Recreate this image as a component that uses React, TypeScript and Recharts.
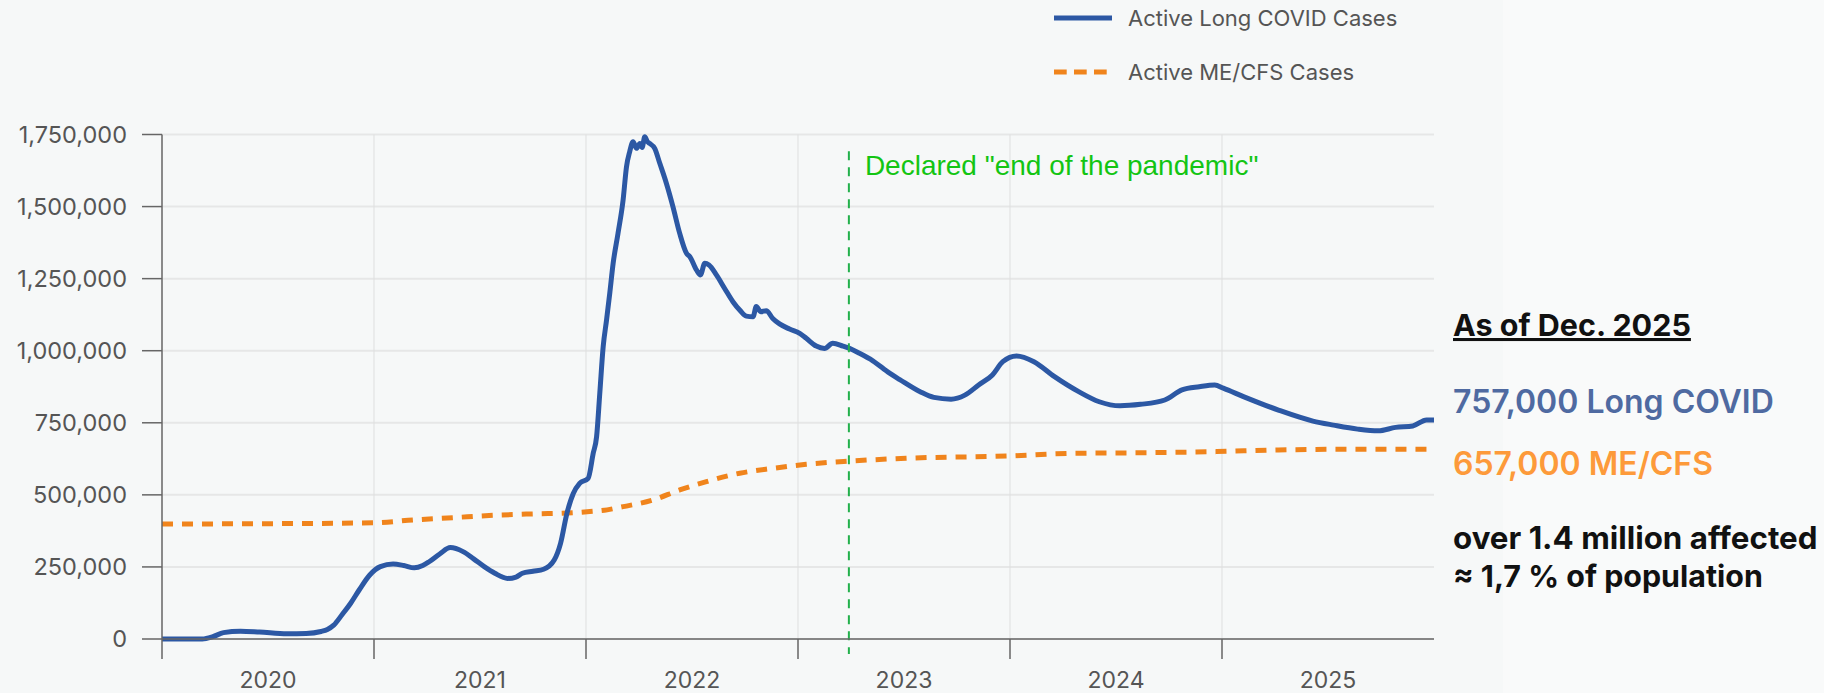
import React from 'react';
import { LineChart, Line, XAxis, YAxis, CartesianGrid, ReferenceLine } from 'recharts';

// ---- Data (x = decimal year, y = active cases) ----
const longCovidYears = [
  2020.0, 2020.19, 2020.24, 2020.29, 2020.37, 2020.46, 2020.59, 2020.68, 2020.75, 2020.78,
  2020.81, 2020.85, 2020.89, 2020.93, 2020.98, 2021.03, 2021.09, 2021.14, 2021.19, 2021.23,
  2021.26, 2021.31, 2021.36, 2021.42, 2021.47, 2021.52, 2021.57, 2021.63, 2021.67, 2021.7,
  2021.75, 2021.8, 2021.85, 2021.88, 2021.91, 2021.94, 2021.97, 2022.01, 2022.034, 2022.05,
  2022.065, 2022.081, 2022.097, 2022.112, 2022.128, 2022.151, 2022.175, 2022.191, 2022.206, 2022.222,
  2022.238, 2022.254, 2022.265, 2022.277, 2022.29, 2022.3, 2022.324, 2022.348, 2022.379, 2022.41,
  2022.442, 2022.474, 2022.49, 2022.521, 2022.54, 2022.56, 2022.58, 2022.615, 2022.654, 2022.693,
  2022.725, 2022.756, 2022.788, 2022.803, 2022.825, 2022.85, 2022.881, 2022.913, 2022.96, 2023.008,
  2023.039, 2023.086, 2023.125, 2023.164, 2023.212, 2023.243, 2023.29, 2023.353, 2023.432, 2023.48,
  2023.576, 2023.641, 2023.722, 2023.787, 2023.852, 2023.917, 2023.966, 2024.031, 2024.113, 2024.21,
  2024.324, 2024.421, 2024.519, 2024.616, 2024.73, 2024.811, 2024.893, 2024.966, 2025.006, 2025.104,
  2025.266, 2025.429, 2025.526, 2025.64, 2025.737, 2025.819, 2025.9, 2025.965, 2026.0,
];
const longCovidValues = [
  0, 0, 8000, 22000, 27000, 24000, 18000, 19000, 26000, 33000,
  48000, 85000, 124000, 170000, 222000, 251000, 260000, 255000, 247000, 255000,
  268000, 295000, 317000, 303000, 278000, 251000, 228000, 210000, 215000, 228000,
  235000, 242000, 274000, 332000, 436000, 505000, 540000, 557000, 644000, 702000,
  852000, 1014000, 1107000, 1199000, 1303000, 1407000, 1523000, 1638000, 1690000, 1725000,
  1702000, 1719000, 1705000, 1742000, 1725000, 1719000, 1702000, 1650000, 1581000, 1500000,
  1407000, 1338000, 1326000, 1280000, 1263000, 1303000, 1297000, 1263000, 1216000, 1170000,
  1141000, 1120000, 1118000, 1153000, 1135000, 1139000, 1112000, 1093000, 1075000, 1060000,
  1043000, 1016000, 1008000, 1026000, 1016000, 1008000, 991000, 965000, 922000, 900000,
  858000, 838000, 832000, 846000, 881000, 916000, 962000, 982000, 962000, 910000,
  858000, 823000, 809000, 814000, 829000, 864000, 875000, 881000, 870000, 840000,
  794000, 756000, 742000, 728000, 722000, 734000, 739000, 760000, 760000,
];

const meCfsYears = [
  2020.0, 2020.5, 2021.0, 2021.185, 2021.374, 2021.562, 2021.751, 2021.939, 2022.018, 2022.1,
  2022.175, 2022.316, 2022.442, 2022.568, 2022.725, 2022.881, 2023.039, 2023.243, 2023.51, 2023.999,
  2024.29, 2024.616, 2024.974, 2025.266, 2025.59, 2026.0,
];
const meCfsValues = [
  399000, 400000, 403000, 413000, 421000, 429000, 434000, 438000, 442000, 448000,
  459000, 482000, 517000, 546000, 575000, 592000, 606000, 617000, 627000, 635000,
  644000, 646000, 650000, 656000, 658000, 658000,
];

const yTicks = [0, 250000, 500000, 750000, 1000000, 1250000, 1500000, 1750000];
const yearBoundaries = [2020, 2021, 2022, 2023, 2024, 2025];
const yearLabelPositions = [2020.5, 2021.5, 2022.5, 2023.5, 2024.5, 2025.5];
const xDomain = [2020, 2026];
const yDomain = [0, 1750000];

const pandemicEndYear = 2023.24;
const pandemicLineTop = 1692000;
const pandemicLineBottom = -52000;
const pandemicEndLabel = 'Declared "end of the pandemic"';

const seriesNames = ['Active Long COVID Cases', 'Active ME/CFS Cases'];
const summaryTitle = 'As of Dec. 2025';
const summaryLongCovid = '757,000 Long COVID';
const summaryMeCfs = '657,000 ME/CFS';
const summaryTotal = ['over 1.4 million affected', '≈ 1,7 % of population'];

const longCovidData = longCovidYears.map((t, i) => ({ t, v: longCovidValues[i] }));
const meCfsData = meCfsYears.map((t, i) => ({ t, v: meCfsValues[i] }));
const xTicks = [...yearBoundaries, ...yearLabelPositions].sort((a, b) => a - b);

const BLUE = '#2c58a4';
const ORANGE = '#f0841c';
const AXIS = '#666';
const TICK_FONT = 'Inter, "Noto Sans", sans-serif';
const X_TICK_SIZE = 20;
const X_TICK_MARGIN = 13;

const renderXTick = (props: any) => {
  const { x, y, payload } = props;
  const v = payload.value as number;
  if (Number.isInteger(v)) {
    return (
      <line
        x1={x}
        x2={x}
        y1={y - X_TICK_SIZE - X_TICK_MARGIN}
        y2={y - X_TICK_MARGIN}
        stroke={AXIS}
        strokeWidth={1.5}
      />
    );
  }
  return (
    <text x={x} y={y} dy="0.71em" textAnchor="middle" fill="#555" fontSize={23} fontFamily={TICK_FONT}>
      {String(Math.floor(v))}
    </text>
  );
};

const renderPandemicLabel = (props: any) => {
  const vb = props.viewBox || {};
  return (
    <text
      x={(vb.x || 0) + 16}
      y={(vb.y || 0) + 24}
      fill="#13c513"
      fontSize={28}
      fontFamily='"Liberation Sans", Arial, sans-serif'
    >
      {pandemicEndLabel}
    </text>
  );
};

export default function App() {
  return (
    <div
      style={{
        position: 'absolute',
        left: 0,
        top: 0,
        width: 1824,
        height: 693,
        background: '#f6f8f8',
        overflow: 'hidden',
      }}
    >
      <div style={{ position: 'absolute', left: 1503, top: 0, width: 321, height: 693, background: '#f9fafa' }} />
      <div style={{ position: 'absolute', left: 0, top: 0 }}>
        <LineChart width={1450} height={693} margin={{ top: 134.5, right: 16, left: 0, bottom: 0 }}>
          <CartesianGrid horizontal={true} vertical={false} stroke="#e6e7e7" strokeWidth={2} />
          {yearBoundaries.slice(1).map((yr) => (
            <ReferenceLine key={yr} x={yr} stroke="#dedfdf" strokeWidth={1} />
          ))}
          <XAxis
            type="number"
            dataKey="t"
            domain={xDomain}
            allowDataOverflow
            ticks={xTicks}
            interval={0}
            tickSize={X_TICK_SIZE}
            tickMargin={X_TICK_MARGIN}
            tickLine={false}
            tick={renderXTick}
            height={54}
            axisLine={{ stroke: AXIS, strokeWidth: 1.5 }}
          />
          <YAxis
            type="number"
            domain={yDomain}
            ticks={yTicks}
            interval={0}
            width={162}
            tickSize={20}
            tickMargin={15}
            tickFormatter={(v: number) => v.toLocaleString('en-US')}
            tick={{ fill: '#555', fontSize: 23.5, fontFamily: TICK_FONT }}
            axisLine={{ stroke: AXIS, strokeWidth: 1.5 }}
            tickLine={{ stroke: AXIS, strokeWidth: 1.5 }}
          />
          <Line
            data={meCfsData}
            dataKey="v"
            type="monotone"
            stroke={ORANGE}
            strokeWidth={5}
            strokeDasharray="11 9"
            dot={false}
            activeDot={false}
            isAnimationActive={false}
          />
          <Line
            data={longCovidData}
            dataKey="v"
            type="monotone"
            stroke={BLUE}
            strokeWidth={5}
            dot={false}
            activeDot={false}
            isAnimationActive={false}
          />
          <ReferenceLine
            segment={[
              { x: pandemicEndYear, y: pandemicLineTop },
              { x: pandemicEndYear, y: pandemicLineBottom },
            ]}
            ifOverflow="visible"
            stroke="#22b04b"
            strokeWidth={2}
            strokeDasharray="9 7"
            label={renderPandemicLabel}
          />
        </LineChart>
      </div>
      <svg
        width={1824}
        height={693}
        style={{ position: 'absolute', left: 0, top: 0, pointerEvents: 'none' }}
      >
        {/* Legend */}
        <line x1={1054} y1={18} x2={1112} y2={18} stroke={BLUE} strokeWidth={5} />
        <text x={1128} y={26} fill="#555" fontSize={22} fontFamily={TICK_FONT}>
          {seriesNames[0]}
        </text>
        <line x1={1054} y1={72} x2={1107} y2={72} stroke={ORANGE} strokeWidth={5} strokeDasharray="12.7 7.3" />
        <text x={1128} y={80} fill="#555" fontSize={22} fontFamily={TICK_FONT}>
          {seriesNames[1]}
        </text>

        {/* Summary panel */}
        <text
          x={1453}
          y={336}
          fill="#111"
          fontSize={30.5}
          fontWeight={700}
          fontFamily={TICK_FONT}
          style={{ textDecoration: 'underline' }}
        >
          {summaryTitle}
        </text>
        <text x={1453} y={413} fill="#4f6aa1" fontSize={32} fontWeight={600} fontFamily={TICK_FONT}>
          {summaryLongCovid}
        </text>
        <text x={1453} y={475} fill="#fd9a3a" fontSize={32} fontWeight={600} fontFamily={TICK_FONT}>
          {summaryMeCfs}
        </text>
        <text x={1453} y={549} fill="#111" fontSize={31.3} fontWeight={700} fontFamily={TICK_FONT}>
          {summaryTotal[0]}
        </text>
        <text x={1453} y={587} fill="#111" fontSize={30.4} fontWeight={700} fontFamily={TICK_FONT}>
          {summaryTotal[1]}
        </text>
      </svg>
    </div>
  );
}
